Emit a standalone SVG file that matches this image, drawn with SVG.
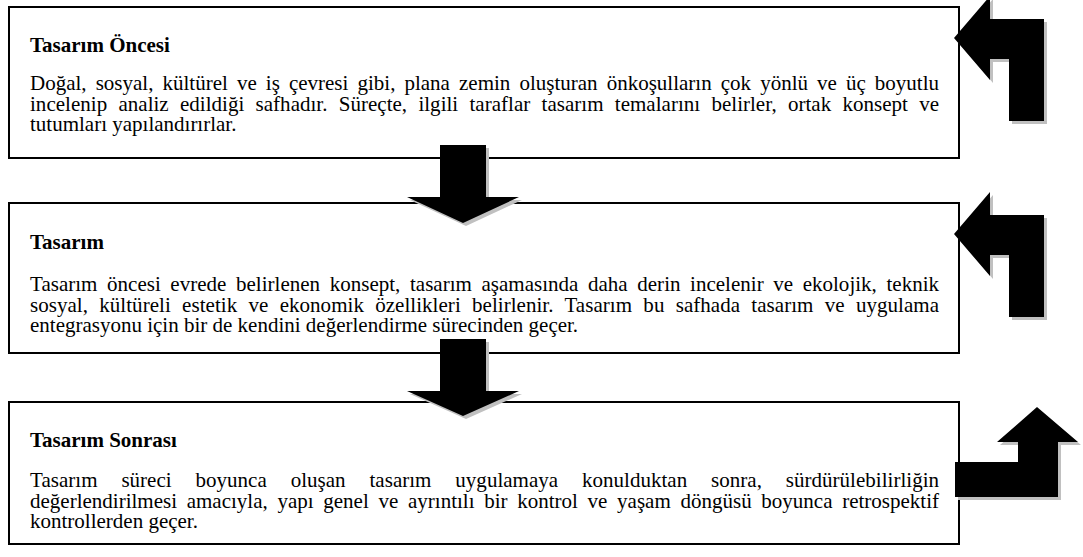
<svg xmlns="http://www.w3.org/2000/svg" width="1083" height="557" viewBox="0 0 1083 557">
<style>
.box{fill:#fff;stroke:#000;stroke-width:2}
text{font-family:'Liberation Serif','Times New Roman',Times,serif;font-size:21px;fill:#000}
.t{font-weight:bold}
.arr{fill:#000}
.sh{fill:#c0c0c0}
</style>
<rect width="1083" height="557" fill="#fff"/>
<g id="node-oncesi">
<rect class="box" x="9" y="7" width="950" height="151"/>
<text class="t" x="30" y="52">Tasarım Öncesi</text>
<text class="b" x="30" y="90" word-spacing="3.8" textLength="909" lengthAdjust="spacing">Doğal, sosyal, kültürel ve iş çevresi gibi, plana zemin oluşturan önkoşulların çok yönlü ve üç boyutlu</text>
<text class="b" x="30" y="111" word-spacing="6" textLength="909" lengthAdjust="spacing">incelenip analiz edildiği safhadır. Süreçte, ilgili taraflar tasarım temalarını belirler, ortak konsept ve</text>
<text class="b" x="30" y="131">tutumları yapılandırırlar.</text>
</g>
<g id="node-tasarim">
<rect class="box" x="9" y="203" width="950" height="150"/>
<text class="t" x="30" y="249">Tasarım</text>
<text class="b" x="30" y="291" word-spacing="4.3" textLength="909" lengthAdjust="spacing">Tasarım öncesi evrede belirlenen konsept, tasarım aşamasında daha derin incelenir ve ekolojik, teknik</text>
<text class="b" x="30" y="312" word-spacing="6" textLength="909" lengthAdjust="spacing">sosyal, kültüreli estetik ve ekonomik özellikleri belirlenir. Tasarım bu safhada tasarım ve uygulama</text>
<text class="b" x="30" y="332">entegrasyonu için bir de kendini değerlendirme sürecinden geçer.</text>
</g>
<g id="node-sonrasi">
<rect class="box" x="9" y="402" width="950" height="142"/>
<text class="t" x="30" y="447">Tasarım Sonrası</text>
<text class="b" x="30" y="487" word-spacing="18.6" textLength="909" lengthAdjust="spacing">Tasarım süreci boyunca oluşan tasarım uygulamaya konulduktan sonra, sürdürülebilirliğin</text>
<text class="b" x="30" y="508" word-spacing="4.45" textLength="909" lengthAdjust="spacing">değerlendirilmesi amacıyla, yapı genel ve ayrıntılı bir kontrol ve yaşam döngüsü boyunca retrospektif</text>
<text class="b" x="30" y="528">kontrollerden geçer.</text>
</g>
<g id="connectors">
<g id="down-1">
<polygon class="sh" transform="translate(3,3)" points="440,145 486,145 486,197 519,197 463,223 407,197 440,197"/>
<polygon class="arr" points="440,145 486,145 486,197 519,197 463,223 407,197 440,197"/>
</g>
<g id="down-2">
<polygon class="sh" transform="translate(3,3)" points="440,339 486,339 486,391 519,391 463,416 407,391 440,391"/>
<polygon class="arr" points="440,339 486,339 486,391 519,391 463,416 407,391 440,391"/>
</g>
<g id="feedback-1">
<polygon class="sh" transform="translate(3,3)" points="954,38 990,-4 990,19 1044,19 1044,121 1009,121 1009,59 990,59 990,80"/>
<polygon class="arr" points="954,38 990,-4 990,19 1044,19 1044,121 1009,121 1009,59 990,59 990,80"/>
</g>
<g id="feedback-2">
<polygon class="sh" transform="translate(3,3)" points="954,234 990,192 990,215 1044,215 1044,317 1009,317 1009,255 990,255 990,276"/>
<polygon class="arr" points="954,234 990,192 990,215 1044,215 1044,317 1009,317 1009,255 990,255 990,276"/>
</g>
<g id="feedback-3">
<polygon class="sh" transform="translate(3,3)" points="955,462 1018,462 1018,442 997,442 1037,407 1078,442 1058,442 1058,497 955,497"/>
<polygon class="arr" points="955,462 1018,462 1018,442 997,442 1037,407 1078,442 1058,442 1058,497 955,497"/>
</g>
</g>
</svg>
